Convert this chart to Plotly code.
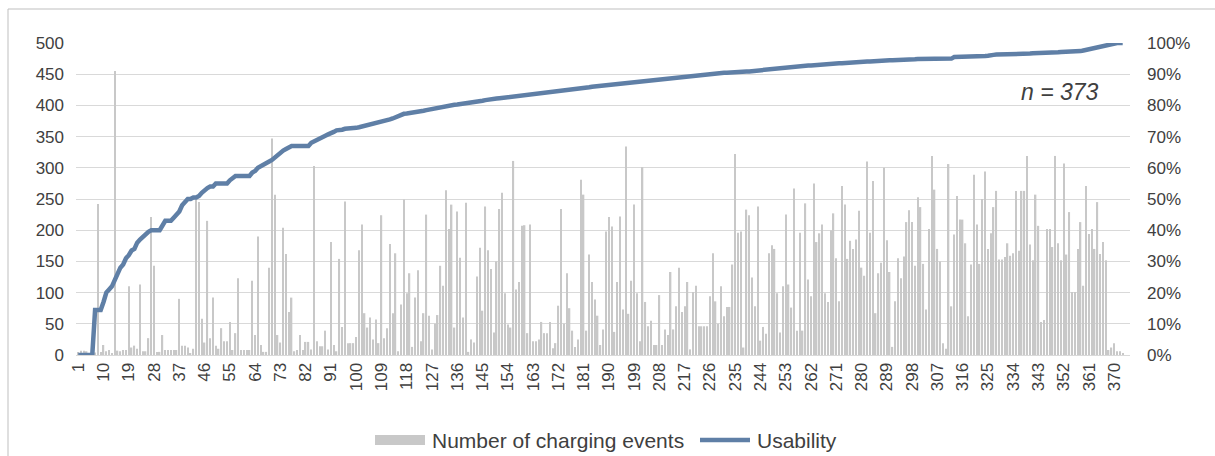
import plotly.graph_objects as go

# ---- data ----
charging_events = [
    5, 7, 7, 6, 3, 2, 4, 242, 5, 16,
    6, 8, 3, 455, 7, 6, 8, 8, 110, 12,
    15, 10, 113, 6, 6, 27, 221, 143, 5, 5,
    32, 8, 8, 8, 8, 8, 90, 15, 15, 12,
    3, 10, 250, 245, 58, 20, 215, 27, 92, 15,
    10, 43, 22, 22, 53, 8, 35, 123, 8, 8,
    8, 8, 119, 32, 190, 16, 5, 5, 140, 347,
    257, 32, 20, 204, 162, 69, 92, 6, 8, 32,
    8, 21, 21, 9, 303, 22, 14, 14, 39, 9,
    181, 16, 6, 154, 45, 246, 19, 19, 19, 29,
    168, 209, 67, 44, 60, 25, 57, 19, 224, 27,
    43, 178, 67, 163, 6, 81, 249, 99, 131, 13,
    92, 136, 22, 67, 225, 63, 9, 50, 64, 143,
    111, 264, 202, 241, 44, 230, 156, 60, 244, 5,
    25, 20, 126, 172, 71, 238, 168, 138, 36, 150,
    234, 260, 99, 49, 44, 311, 105, 117, 207, 208,
    35, 209, 22, 22, 25, 53, 35, 35, 53, 11,
    19, 79, 234, 50, 131, 75, 39, 13, 25, 281,
    257, 39, 161, 117, 89, 63, 16, 41, 198, 221,
    206, 37, 117, 222, 73, 334, 66, 119, 241, 99,
    22, 301, 85, 46, 55, 16, 16, 96, 16, 41,
    32, 133, 41, 78, 140, 69, 78, 117, 9, 101,
    111, 46, 46, 46, 46, 94, 163, 86, 50, 110,
    62, 77, 77, 145, 322, 196, 198, 12, 233, 224,
    124, 78, 238, 23, 45, 34, 163, 176, 170, 99,
    36, 110, 225, 113, 76, 267, 39, 196, 39, 243,
    121, 94, 275, 181, 195, 209, 99, 85, 200, 227,
    155, 86, 271, 241, 154, 183, 170, 185, 231, 140,
    127, 310, 196, 279, 67, 131, 148, 300, 184, 133,
    13, 86, 155, 123, 158, 213, 232, 213, 143, 253,
    237, 146, 73, 202, 319, 265, 170, 150, 19, 10,
    306, 78, 193, 255, 217, 217, 179, 62, 145, 289,
    209, 146, 250, 294, 170, 195, 237, 263, 153, 153,
    157, 179, 159, 163, 263, 167, 263, 263, 319, 177,
    152, 257, 207, 53, 56, 202, 202, 173, 319, 179,
    152, 307, 161, 229, 101, 101, 170, 213, 111, 271,
    194, 202, 170, 245, 162, 181, 152, 8, 12, 19,
    6, 6, 3,
]

usability_pct = [
    0, 0, 0, 0, 0, 0, 14.4, 14.4, 14.4,
    17, 20, 21, 22, 24, 26, 28, 29, 31, 32,
    33.5, 34, 36, 37, 38, 39, 39.5, 40, 40, 40,
    40, 41.5, 43, 43, 43, 44, 45, 46, 48, 49,
    50, 50, 50.5, 50.5, 51, 52, 53, 53.5, 54, 54,
    55, 55, 55, 55, 55, 56, 56.5, 57.4, 57.4, 57.4,
    57.4, 57.4, 57.4, 58.5, 59, 60, 60.6, 61, 61.5, 62,
    62.5, 63.3, 64, 65, 65.5, 66, 66.5, 67, 67, 67,
    67, 67, 67, 67, 68, 68.5, 69, 69.7, 70, 70.3,
    70.7, 71, 71.5, 72, 72, 72.2, 72.5, 72.5, 72.6, 72.8,
    72.8, 73, 73.2, 73.4, 73.6, 73.8, 74, 74.2, 74.5, 74.8,
    75, 75.2, 75.5, 75.8, 76.2, 76.6, 77, 77.3, 77.4, 77.5,
    77.6, 77.8, 78, 78.2, 78.3, 78.5, 78.7, 78.9, 79, 79.2,
    79.4, 79.6, 79.8, 79.9, 80, 80.2, 80.3, 80.4, 80.6, 80.7,
    80.8, 81, 81.1, 81.2, 81.4, 81.5, 81.7, 81.9, 82, 82.1,
    82.2, 82.3, 82.4, 82.5, 82.6, 82.7, 82.8, 82.9, 83.0, 83.2,
    83.3, 83.4, 83.5, 83.6, 83.7, 83.8, 84.0, 84.2, 84.3, 84.4,
    84.5, 84.6, 84.7, 84.8, 84.9, 85.0, 85.1, 85.2, 85.3, 85.4,
    85.5, 85.6, 85.7, 85.8, 86.0, 86.1, 86.2, 86.3, 86.4, 86.5,
    86.6, 86.7, 86.8, 86.9, 87.0, 87.2, 87.3, 87.4, 87.5, 87.6,
    87.7, 87.8, 87.9, 87.9, 88.0, 88.0, 88.1, 88.2, 88.3, 88.4,
    88.5, 88.7, 88.8, 88.9, 89.0, 89.0, 89.1, 89.2, 89.3, 89.4,
    89.5, 89.6, 89.7, 89.8, 89.9, 90.0, 90.1, 90.2, 90.3, 90.3,
    90.4, 90.5, 90.5, 90.6, 90.6, 90.7, 90.7, 90.8, 90.8, 90.9,
    90.9, 91.0, 91.1, 91.3, 91.3, 91.4, 91.5, 91.6, 91.7, 91.8,
    91.9, 92.0, 92.0, 92.1, 92.2, 92.3, 92.4, 92.5, 92.6, 92.7,
    92.7, 92.8, 92.8, 92.9, 92.9, 93.0, 93.0, 93.1, 93.2, 93.3,
    93.4, 93.5, 93.5, 93.5, 93.6, 93.6, 93.7, 93.8, 93.8, 93.9,
    94.0, 94.0, 94.1, 94.1, 94.2, 94.2, 94.3, 94.3, 94.4, 94.4,
    94.5, 94.5, 94.5, 94.6, 94.6, 94.7, 94.7, 94.8, 94.8, 94.8,
    94.9, 94.9, 94.9, 94.9, 95.0, 95.0, 95.0, 95.0, 95.0, 95.0,
    95.0, 95.0, 95.0, 95.5, 95.5, 95.5, 95.5, 95.6, 95.6, 95.6,
    95.7, 95.7, 95.7, 95.8, 95.8, 95.9, 96.2, 96.2, 96.3, 96.3,
    96.3, 96.3, 96.4, 96.4, 96.5, 96.5, 96.5, 96.6, 96.6, 96.6,
    96.6, 96.7, 96.7, 96.8, 96.8, 96.8, 96.9, 96.9, 97.0, 97.0,
    97.0, 97.1, 97.1, 97.2, 97.2, 97.3, 97.3, 97.4, 97.4, 97.6,
    97.8, 98.0, 98.2, 98.4, 98.6, 98.8, 99.0, 99.2, 99.5, 99.8,
    100, 100, 100, 100,
]

stations = list(range(1, len(charging_events) + 1))
tick_values = list(range(1, 371, 9))
tick_labels = [str(v) for v in tick_values]
left_ticks = list(range(0, 501, 50))
right_ticks = list(range(0, 101, 10))
right_labels = [f"{v}%" for v in right_ticks]

assert len(charging_events) == 373 and len(usability_pct) == 373

FONT = "Liberation Sans, Arial, sans-serif"
TXT = "#404040"
BAR_COLOR = "#c8c8c8"
LINE_COLOR = "#5f7fa6"

fig = go.Figure()
fig.add_trace(go.Bar(
    x=stations, y=charging_events, name="Number of charging events",
    marker=dict(color=BAR_COLOR, line=dict(width=0)), width=0.5,
))
fig.add_trace(go.Scatter(
    x=stations, y=usability_pct, name="Usability", yaxis="y2",
    mode="lines", line=dict(color=LINE_COLOR, width=4.5),
))

# manual legend (Excel-style wide swatches), paper coords of plot area 76..1130 x 43..355
def px_x(px):
    return (px - 76) / 1054.0

def px_y(py):
    return (355 - py) / 312.0

leg_y = px_y(440)
shapes = [
    dict(type="line", xref="paper", yref="paper", x0=px_x(8), x1=px_x(1215), y0=px_y(9), y1=px_y(9),
         line=dict(color="#bfbfbf", width=1)),
    dict(type="line", xref="paper", yref="paper", x0=px_x(8), x1=px_x(8), y0=px_y(460), y1=px_y(9),
         line=dict(color="#bfbfbf", width=1)),
    dict(type="rect", xref="paper", yref="paper", x0=px_x(375), x1=px_x(425), y0=px_y(445), y1=px_y(435),
         fillcolor=BAR_COLOR, line=dict(width=0)),
    dict(type="line", xref="paper", yref="paper", x0=px_x(700), x1=px_x(750), y0=leg_y, y1=leg_y,
         line=dict(color=LINE_COLOR, width=4.5)),
]
annotations = [
    dict(text="<i>n = 373</i>", xref="paper", yref="paper", x=px_x(1101), y=px_y(92),
         xanchor="right", yanchor="middle", showarrow=False, font=dict(size=23, color=TXT)),
    dict(text="Number of charging events", xref="paper", yref="paper", x=px_x(430), y=leg_y,
         xanchor="left", yanchor="middle", showarrow=False, font=dict(size=21, color=TXT)),
    dict(text="Usability", xref="paper", yref="paper", x=px_x(755), y=leg_y,
         xanchor="left", yanchor="middle", showarrow=False, font=dict(size=21, color=TXT)),
]

fig.update_layout(
    width=1215, height=456,
    margin=dict(l=76, r=85, t=43, b=101, autoexpand=False),
    paper_bgcolor="white", plot_bgcolor="white",
    font=dict(family=FONT, size=17, color=TXT),
    showlegend=False,
    xaxis=dict(range=[0.2, 375.6], tickmode="array", tickvals=tick_values,
               ticktext=tick_labels, tickangle=-90, showgrid=False, zeroline=False,
               showline=True, linecolor="#d9d9d9", linewidth=1, ticks="", automargin=False,
               tickfont=dict(size=17, color=TXT)),
    yaxis=dict(range=[0, 500], tickmode="array", tickvals=left_ticks,
               showgrid=True, gridcolor="#d9d9d9", gridwidth=1, zeroline=False, automargin=False,
               ticks="", tickfont=dict(size=17, color=TXT), ticklabelstandoff=11),
    yaxis2=dict(range=[0, 100], overlaying="y", side="right", tickmode="array",
                tickvals=right_ticks, ticktext=right_labels, showgrid=False, zeroline=False,
                automargin=False, ticks="", tickfont=dict(size=17, color=TXT), ticklabelstandoff=16),
    annotations=annotations,
    shapes=shapes,
    bargap=0.5,
)

fig.write_html(
    "out.html",
    config={"displayModeBar": False},
    post_script="document.body.style.margin='0';document.body.style.overflow='hidden';",
)
